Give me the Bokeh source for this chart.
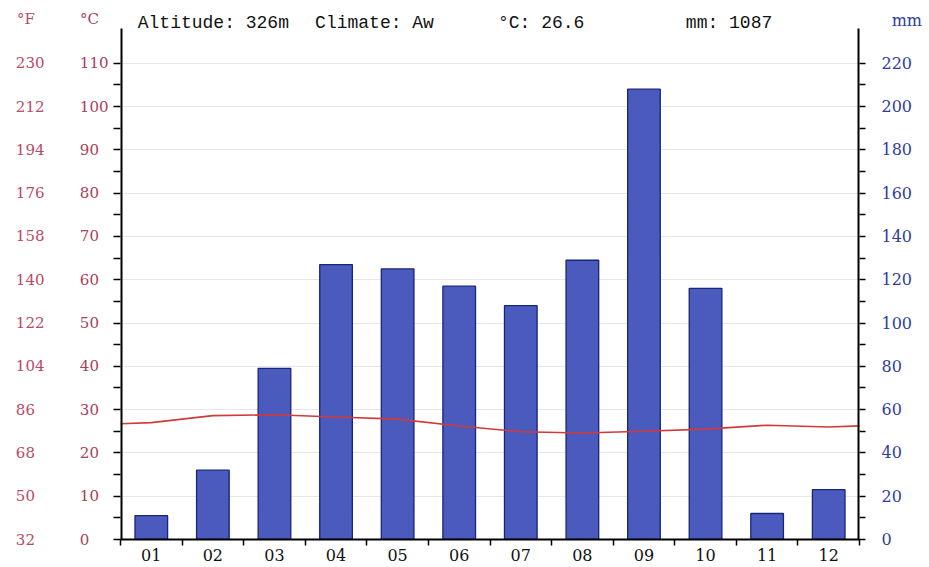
from bokeh.plotting import figure
from bokeh.models import Range1d, LinearAxis, FixedTicker, Label, ColumnDataSource
from bokeh.embed import file_html
from bokeh.resources import INLINE

months = ["01", "02", "03", "04", "05", "06", "07", "08", "09", "10", "11", "12"]
precip_mm = [11, 32, 79, 127, 125, 117, 108, 129, 208, 116, 12, 23]
temp_c = [27.0, 28.6, 28.8, 28.3, 27.8, 26.2, 24.9, 24.6, 25.0, 25.5, 26.4, 26.0]
c_ticks = [0, 10, 20, 30, 40, 50, 60, 70, 80, 90, 100, 110]
mm_ticks = [0, 20, 40, 60, 80, 100, 120, 140, 160, 180, 200, 220]
header = ["Altitude: 326m", "Climate: Aw", "°C: 26.6", "mm: 1087"]

AXIS_TOP = 118.0      # top of drawn axis lines (°C)
Y_TOP = 123.1         # frame top (°C), leaves room for header texts
UNIT_Y = 120.2        # level of the unit captions (°C)
FS = "\u2007"         # figure space for left-aligned look

p = figure(width=925, height=565, output_backend="svg", toolbar_location=None,
           x_range=Range1d(0, 12), y_range=Range1d(0, Y_TOP),
           min_border_left=120, min_border_right=65, min_border_top=6, min_border_bottom=26)
p.extra_y_ranges = {"mm": Range1d(0, Y_TOP * 2)}
p.outline_line_color = None
p.background_fill_color = "white"
p.border_fill_color = "white"

p.xgrid.grid_line_color = None
p.ygrid.ticker = FixedTicker(ticks=c_ticks)
p.ygrid.grid_line_color = "#e6e6e6"
p.ygrid.grid_line_width = 1

centers = [i + 0.5 for i in range(len(months))]
src = ColumnDataSource(dict(x=centers, mm=precip_mm))
p.vbar(x="x", top="mm", width=0.53, bottom=0, source=src, y_range_name="mm",
       fill_color="#4a5bbd", line_color="#1a2478", line_width=1.3)

# temperature line extended to plot edges using Dec/Jan mean
edge = (temp_c[0] + temp_c[-1]) / 2.0
tx = [0] + centers + [12]
ty = [(temp_c[0] + edge) / 2.0] + temp_c + [(temp_c[-1] + edge) / 2.0]
p.line(tx, ty, line_color="#d23a3a", line_width=1.6)

# vertical axis lines, stopping at AXIS_TOP
p.segment(x0=[0, 12], y0=[0, 0], x1=[0, 12], y1=[AXIS_TOP, AXIS_TOP],
          line_color="black", line_width=4)

# x axis
xa = p.xaxis[0]
xa.ticker = FixedTicker(ticks=centers, minor_ticks=list(range(13)))
xa.major_label_overrides = {c: m for c, m in zip(centers, months)}
xa.major_tick_line_color = None
xa.minor_tick_out = 6
xa.minor_tick_in = 0
xa.minor_tick_line_color = "black"
xa.minor_tick_line_width = 1.5
xa.axis_line_width = 2
xa.major_label_text_font = "DejaVu Serif"
xa.major_label_text_font_size = "16px"
xa.major_label_text_color = "#111111"
xa.major_label_standoff = 3

# left °C axis
ya = p.yaxis[0]
ya.ticker = FixedTicker(ticks=c_ticks + [UNIT_Y], minor_ticks=[v * 5 for v in range(0, 23)])
w = max(len(str(t)) for t in c_ticks)
ov = {t: str(t) + FS * (w - len(str(t))) for t in c_ticks}
ov[UNIT_Y] = "°C" + FS
ya.major_label_overrides = ov
ya.axis_line_color = None
ya.major_tick_line_color = None
ya.minor_tick_out = 7
ya.minor_tick_in = 0
ya.minor_tick_line_width = 1.5
ya.minor_tick_line_color = "black"
ya.major_label_text_font = "DejaVu Serif"
ya.major_label_text_font_size = "15px"
ya.major_label_text_color = "#a8405a"
ya.major_label_standoff = 5

# left °F axis (outer)
fa = LinearAxis(ticker=FixedTicker(ticks=c_ticks + [UNIT_Y], minor_ticks=[]))
f_lab = {t: str(round(t * 1.8 + 32)) for t in c_ticks}
wf = max(len(s) for s in f_lab.values())
fov = {t: s + FS * (wf - len(s)) for t, s in f_lab.items()}
fov[UNIT_Y] = "°F" + FS
fa.major_label_overrides = fov
fa.axis_line_color = None
fa.major_tick_line_color = None
fa.minor_tick_line_color = None
fa.major_label_text_font = "DejaVu Serif"
fa.major_label_text_font_size = "15px"
fa.major_label_text_color = "#b84a66"
fa.major_label_standoff = 26
p.add_layout(fa, "left")

# right mm axis
UNIT_MM = UNIT_Y * 2 - 0.8
ra = LinearAxis(y_range_name="mm",
                ticker=FixedTicker(ticks=mm_ticks + [UNIT_MM],
                                   minor_ticks=[v * 10 for v in range(0, 23)]))
rov = {t: str(t) for t in mm_ticks}
rov[UNIT_MM] = FS + "mm"
ra.major_label_overrides = rov
ra.axis_line_color = None
ra.major_tick_line_color = None
ra.minor_tick_out = 6
ra.minor_tick_in = 0
ra.minor_tick_line_width = 1.5
ra.minor_tick_line_color = "black"
ra.major_label_text_font = "DejaVu Serif"
ra.major_label_text_font_size = "16px"
ra.major_label_text_color = "#2f3ea0"
ra.major_label_standoff = 16
p.add_layout(ra, "right")

# header texts inside the (extended) frame
HEAD_Y = 119.4
hx = [0.28, 3.16, 6.13, 9.18]
for xx, t in zip(hx, header):
    p.add_layout(Label(x=xx, y=HEAD_Y, text=t, text_font="Liberation Mono",
                       text_font_size="18px", text_color="#111111",
                       text_baseline="alphabetic", text_align="left"))

open("out.html", "w").write(file_html(p, INLINE))
